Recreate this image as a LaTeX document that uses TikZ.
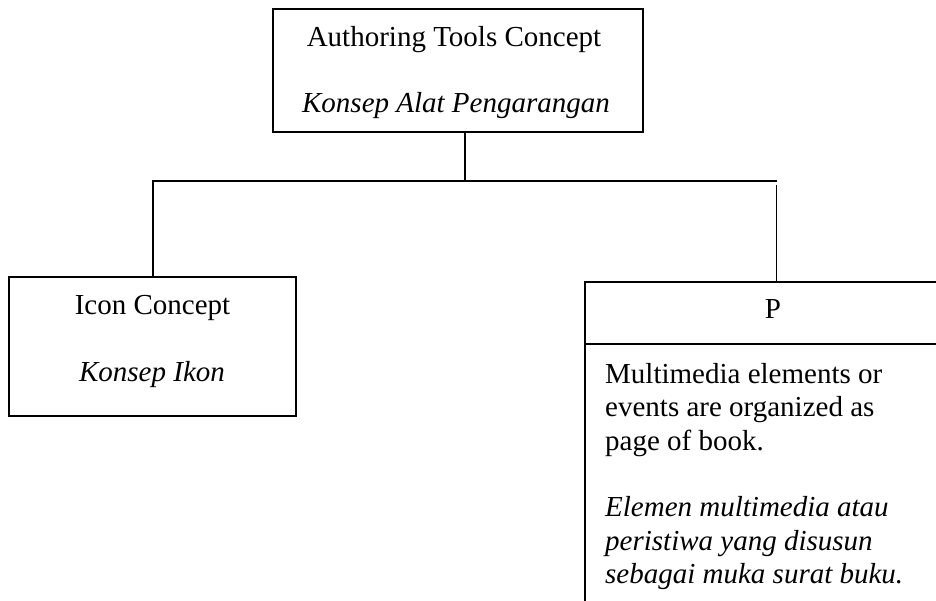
\documentclass[tikz,border=0pt]{standalone}
\usepackage{fontspec}
\setmainfont{Liberation Serif}
\begin{document}
\begin{tikzpicture}[x=1pt,y=-1pt,
  box/.style={draw=black, line width=1.8pt, rectangle, inner sep=0pt},
  txt/.style={inner sep=0pt, font=\fontsize{29}{33.35}\selectfont},
  conn/.style={draw=black, line width=1.8pt}]
\useasboundingbox (0,0) rectangle (936,601);
\fill[white] (0,0) rectangle (936,601);
\clip (0,0) rectangle (936,601);

% top box
\node[box, minimum width=370pt, minimum height=123pt] (top) at (457.7,70.8) {};
\node[txt, anchor=base] (t1) at (454,46.7) {Authoring Tools Concept};
\node[txt, anchor=base] (t2) at (456,113) {\itshape Konsep Alat Pengarangan};

% left box
\node[box, minimum width=287pt, minimum height=138.7pt] (left) at (152.5,346.7) {};
\node[txt, anchor=base] (l1) at (152.5,315) {Icon Concept};
\node[txt, anchor=base] (l2) at (152,381.7) {\itshape Konsep Ikon};

% right box (extends beyond the page)
\node[box, minimum width=380pt, minimum height=358pt] (right) at (775,460.7) {};
\coordinate (hd) at (0,344);
\draw[conn] (right.west |- hd) -- (right.east |- hd);
\node[txt, anchor=base] (p) at (773,318) {P};
\node[txt, anchor=base west] (r1) at (605,383.3) {Multimedia elements or};
\node[txt, anchor=base west] (r2) at (605,416.7) {events are organized as};
\node[txt, anchor=base west] (r3) at (605,450) {page of book.};
\node[txt, anchor=base west] (r4) at (605,516.7) {\itshape Elemen multimedia atau};
\node[txt, anchor=base west] (r5) at (605,550) {\itshape peristiwa yang disusun};
\node[txt, anchor=base west] (r6) at (605,583.3) {\itshape sebagai muka surat buku.};

% connectors
\coordinate (j) at (465,181);
\coordinate (jl) at (152.7,181);
\coordinate (jr) at (776.5,181);
\coordinate (jr2) at (776.5,185);
\draw[conn] (top.south -| j) -- (j);
\draw[conn] (left.north -| jl) -- (jl) -- (jr);
\draw[conn] (jr2) -- (right.north -| jr2);
\end{tikzpicture}
\end{document}
